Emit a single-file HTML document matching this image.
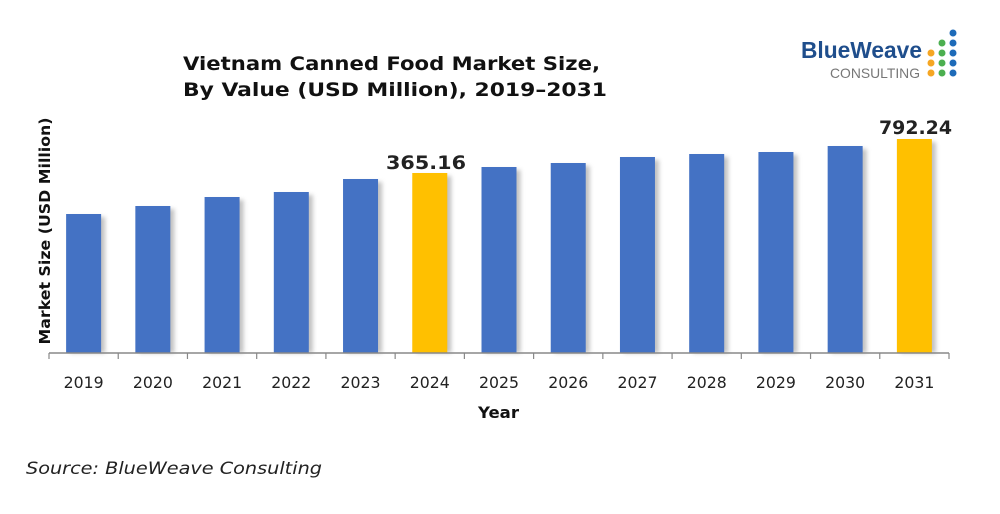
<!DOCTYPE html>
<html><head><meta charset="utf-8"><style>
body{margin:0;background:#fff}
svg{display:block}
text{font-family:"DejaVu Sans","Liberation Sans",sans-serif}
</style></head><body>
<svg width="1000" height="514" viewBox="0 0 1000 514" xmlns="http://www.w3.org/2000/svg">
<defs><filter id="sh" x="-20%" y="-5%" width="160%" height="120%"><feGaussianBlur stdDeviation="2"/></filter></defs>
<text x="183" y="70" font-size="19" font-weight="bold" fill="#111" textLength="417" lengthAdjust="spacingAndGlyphs">Vietnam Canned Food Market Size,</text>
<text x="183" y="96" font-size="19" font-weight="bold" fill="#111" textLength="424" lengthAdjust="spacingAndGlyphs">By Value (USD Million), 2019–2031</text>
<text x="801" y="58" font-size="23" font-weight="bold" fill="#1f4e8c" style="font-family:'Liberation Sans',sans-serif" textLength="121" lengthAdjust="spacingAndGlyphs">BlueWeave</text>
<text x="830" y="78" font-size="14" fill="#777" style="font-family:'Liberation Sans',sans-serif" textLength="90" lengthAdjust="spacingAndGlyphs">CONSULTING</text>
<g>
<circle cx="931" cy="53" r="3.5" fill="#f5a623"/><circle cx="931" cy="63" r="3.5" fill="#f5a623"/><circle cx="931" cy="73" r="3.5" fill="#f5a623"/>
<circle cx="942" cy="43" r="3.5" fill="#4caf50"/><circle cx="942" cy="53" r="3.5" fill="#4caf50"/><circle cx="942" cy="63" r="3.5" fill="#4caf50"/><circle cx="942" cy="73" r="3.5" fill="#4caf50"/>
<circle cx="953" cy="33" r="3.5" fill="#1e6bb8"/><circle cx="953" cy="43" r="3.5" fill="#1e6bb8"/><circle cx="953" cy="53" r="3.5" fill="#1e6bb8"/><circle cx="953" cy="63" r="3.5" fill="#1e6bb8"/><circle cx="953" cy="73" r="3.5" fill="#1e6bb8"/>
</g>
<text transform="translate(50,231) rotate(-90)" font-size="15.5" font-weight="bold" text-anchor="middle" fill="#111" textLength="227" lengthAdjust="spacingAndGlyphs">Market Size (USD Million)</text>
<g id="bars"></g>
<line x1="49" y1="353" x2="949" y2="353" stroke="#888" stroke-width="1.5"/>
<g id="ticks" stroke="#888" stroke-width="1.2"></g>
<g id="labels" font-size="16" fill="#222" text-anchor="middle"></g>
<text x="386" y="169" font-size="19" font-weight="bold" fill="#222" textLength="80" lengthAdjust="spacingAndGlyphs">365.16</text>
<text x="879" y="134" font-size="19" font-weight="bold" fill="#222" textLength="73" lengthAdjust="spacingAndGlyphs">792.24</text>
<text x="478" y="418" font-size="16" font-weight="bold" fill="#111" textLength="41" lengthAdjust="spacingAndGlyphs">Year</text>
<text x="26" y="474" font-size="17" font-style="italic" fill="#222" textLength="296" lengthAdjust="spacingAndGlyphs">Source: BlueWeave Consulting</text>
</svg>
<script>
var tops=[214,206,197,192,179,173,167,163,157,154,152,146,139];
var ns="http://www.w3.org/2000/svg";
var b=document.getElementById('bars'),t=document.getElementById('ticks'),l=document.getElementById('labels');
var sp=900/13;
for(var i=0;i<13;i++){
 var cx=49+sp*(i+0.5),x=cx-17.5;
 var s=document.createElementNS(ns,'rect');s.setAttribute('x',x+4);s.setAttribute('y',tops[i]+3);s.setAttribute('width',35);s.setAttribute('height',353-tops[i]-3);s.setAttribute('fill','#999');s.setAttribute('opacity','0.6');s.setAttribute('filter','url(#sh)');b.appendChild(s);
 var r=document.createElementNS(ns,'rect');r.setAttribute('x',x);r.setAttribute('y',tops[i]);r.setAttribute('width',35);r.setAttribute('height',353-tops[i]);r.setAttribute('fill',(i==5||i==12)?'#ffc000':'#4472c4');b.appendChild(r);
 var tx=document.createElementNS(ns,'text');tx.setAttribute('x',cx);tx.setAttribute('y',388);tx.setAttribute('textLength',40);tx.setAttribute('lengthAdjust','spacingAndGlyphs');tx.textContent=2019+i;l.appendChild(tx);
}
for(var i=0;i<=13;i++){var ln=document.createElementNS(ns,'line');var xx=49+sp*i;ln.setAttribute('x1',xx);ln.setAttribute('x2',xx);ln.setAttribute('y1',353);ln.setAttribute('y2',359);t.appendChild(ln);}
</script>
</body></html>
